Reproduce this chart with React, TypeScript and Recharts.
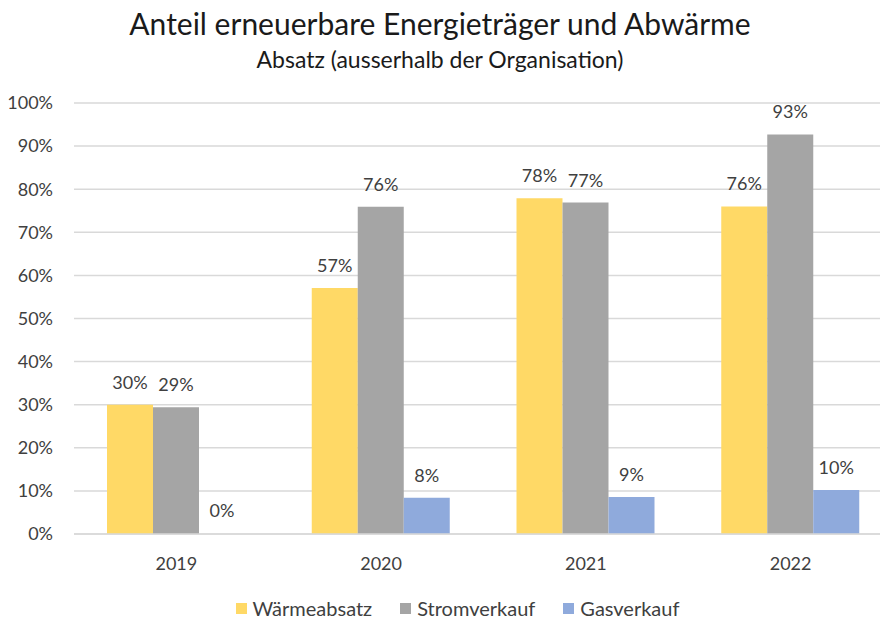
import React from 'react';
import { BarChart, Bar, XAxis, YAxis, CartesianGrid, Legend, LabelList, Rectangle } from 'recharts';

const years = ['2019', '2020', '2021', '2022'];
const waermeabsatz = [30.0, 57.1, 77.9, 76.0];
const stromverkauf = [29.4, 75.9, 76.9, 92.7];
const gasverkauf = [0, 8.4, 8.6, 10.2];
const yTicks = [0, 10, 20, 30, 40, 50, 60, 70, 80, 90, 100];

const series = [
  { key: 'waerme', name: 'Wärmeabsatz', color: '#FFD966' },
  { key: 'strom', name: 'Stromverkauf', color: '#A5A5A5' },
  { key: 'gas', name: 'Gasverkauf', color: '#8FAADC' },
];

const data = years.map((year, i) => ({
  year,
  waerme: waermeabsatz[i],
  strom: stromverkauf[i],
  gas: gasverkauf[i],
}));

const font = 'Lato, "Open Sans", sans-serif';
const textColor = '#404040';

const pct = (v: any) => `${Math.round(Number(v))}%`;

// draws the value above the bar, also for zero-height bars
const TopLabel = (props: any) => {
  const { x, y, width, value } = props;
  if (value == null) return null;
  return (
    <text x={Number(x) + Number(width) / 2} y={Number(y) - 16} textAnchor="middle" fill={textColor} fontSize={18} fontFamily={font}>
      {pct(value)}
    </text>
  );
};

// a 0 value keeps its label (minPointSize) but no visible bar
const barShape = (key: string) => (props: any) => {
  const v = props.payload ? props.payload[key] : props.value;
  if (!v) return <g />;
  return <Rectangle {...props} />;
};

const LegendContent = () => (
  <div style={{ display: 'flex', justifyContent: 'center', gap: 28, fontFamily: font, fontSize: 20, color: textColor, paddingLeft: 22 }}>
    {series.map(s => (
      <div key={s.key} style={{ display: 'flex', alignItems: 'center', gap: 6 }}>
        <span style={{ width: 11, height: 11, background: s.color, display: 'inline-block' }}></span>
        <span>{s.name}</span>
      </div>
    ))}
  </div>
);

const App: React.FC = () => {
  return (
    <div style={{ position: 'absolute', left: 0, top: 0, width: 880, height: 620, overflow: 'hidden', background: '#fff' }}>
      <div style={{ position: 'absolute', left: 0, top: 5, width: 880, textAlign: 'center', fontFamily: font, fontSize: 30, color: '#1a1a1a' }}>
        Anteil erneuerbare Energieträger und Abwärme
      </div>
      <div style={{ position: 'absolute', left: 0, top: 45, width: 880, textAlign: 'center', fontFamily: font, fontSize: 23, color: '#1a1a1a' }}>
        Absatz (ausserhalb der Organisation)
      </div>
      <BarChart
        width={893}
        height={620}
        data={data}
        margin={{ top: 103, right: 0, bottom: 0, left: 0 }}
        barCategoryGap={33}
        barGap={0}
      >
        <CartesianGrid vertical={false} stroke="#D9D9D9" strokeWidth={1.5} />
        <XAxis
          dataKey="year"
          axisLine={{ stroke: '#D9D9D9', strokeWidth: 1.5 }}
          tickLine={false}
          tickSize={0}
          tickMargin={23}
          height={62}
          tick={{ fill: textColor, fontSize: 18, fontFamily: font }}
        />
        <YAxis
          width={74}
          domain={[0, 100]}
          ticks={yTicks}
          tickFormatter={(v) => `${v}%`}
          axisLine={false}
          tickLine={false}
          tickSize={0}
          tickMargin={21}
          tick={{ fill: textColor, fontSize: 18, fontFamily: font }}
        />
        <Legend verticalAlign="bottom" content={<LegendContent />} />
        {series.map(s => (
          <Bar
            key={s.key}
            dataKey={s.key}
            name={s.name}
            fill={s.color}
            minPointSize={1}
            shape={barShape(s.key)}
            isAnimationActive={false}
          >
            <LabelList dataKey={s.key} content={<TopLabel />} />
          </Bar>
        ))}
      </BarChart>
    </div>
  );
};

export default App;
